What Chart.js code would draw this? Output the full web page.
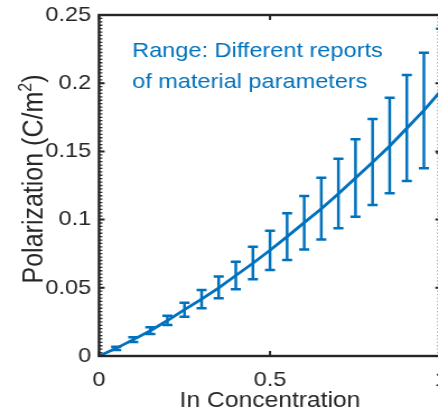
<!DOCTYPE html>
<html>
<head>
<meta charset="utf-8">
<script src="https://cdn.jsdelivr.net/npm/chart.js@4"></script>
<style>
  html, body { margin: 0; padding: 0; overflow: hidden; background: #fff; }
  /* the reference picture is a bit stretched sideways, so stretch the whole canvas too */
  #wrap { width: 420px; height: 414px; transform: scaleX(1.12); transform-origin: 0 0; }
</style>
</head>
<body>
<div id="wrap"><canvas id="myChart" width="420" height="414"></canvas></div>
<script>
const BLUE = "#0072BD"
const AXIS = "#262626"

// concentration values for the curve
const xValues = [0, 0.05, 0.1, 0.15, 0.2, 0.25, 0.3, 0.35, 0.4, 0.45, 0.5,
                 0.55, 0.6, 0.65, 0.7, 0.75, 0.8, 0.85, 0.9, 0.95, 1.0]
// polarization along the curve (C/m^2)
const polarization = [0, 0.0056, 0.012, 0.0185, 0.026, 0.034, 0.0417, 0.050, 0.059, 0.068, 0.0775,
                      0.0875, 0.0978, 0.108, 0.119, 0.1305, 0.142, 0.154, 0.167, 0.180, 0.1945]

// error bar range (different reports of material parameters)
const barX = [0.05, 0.1, 0.15, 0.2, 0.25, 0.3, 0.35, 0.4, 0.45, 0.5,
              0.55, 0.6, 0.65, 0.7, 0.75, 0.8, 0.85, 0.9, 0.95, 1.0]
const barLow = [0.0044, 0.0103, 0.0161, 0.0227, 0.0288, 0.035, 0.0423, 0.0489, 0.0562, 0.063,
                0.0704, 0.078, 0.0855, 0.0936, 0.1021, 0.1107, 0.1193, 0.1283, 0.1376, 0.149]
const barHigh = [0.0068, 0.0137, 0.021, 0.0296, 0.0391, 0.0484, 0.0582, 0.0691, 0.0801, 0.0919,
                 0.1046, 0.1173, 0.1307, 0.1447, 0.1589, 0.1738, 0.1894, 0.206, 0.2224, 0.24]

const xTicks = [0, 0.5, 1]
const yTicks = [0, 0.05, 0.1, 0.15, 0.2, 0.25]
const annotation = ["Range: Different reports", "of material parameters"]

// curve points
let curve = []
for (let i = 0; i < xValues.length; i++) {
  curve.push({x: xValues[i], y: polarization[i]})
}

// each bar is low point, high point, then a gap so the line breaks
let bars = []
for (let i = 0; i < barX.length; i++) {
  bars.push({x: barX[i], y: barLow[i]})
  bars.push({x: barX[i], y: barHigh[i]})
  bars.push({x: barX[i], y: null})
}

// matlab style box with inward ticks, y label and the blue note
const matlabAxes = {
  id: "matlabAxes",
  afterDatasetsDraw(chart) {
    const ctx = chart.ctx
    const area = chart.chartArea
    const xs = chart.scales.x
    const ys = chart.scales.y
    ctx.save()
    ctx.strokeStyle = AXIS
    ctx.lineWidth = 1.3
    ctx.beginPath()
    // minor ticks on y, every 0.0025
    for (let k = 0; k <= 100; k++) {
      let py = ys.getPixelForValue(k * 0.0025)
      ctx.moveTo(area.left, py); ctx.lineTo(area.left + 3, py)
      ctx.moveTo(area.right, py); ctx.lineTo(area.right - 3, py)
    }
    ctx.stroke()
    ctx.lineWidth = 2
    ctx.beginPath()
    yTicks.forEach(v => {
      let py = ys.getPixelForValue(v)
      ctx.moveTo(area.left, py); ctx.lineTo(area.left + 5, py)
      ctx.moveTo(area.right, py); ctx.lineTo(area.right - 5, py)
    })
    xTicks.forEach(v => {
      let px = xs.getPixelForValue(v)
      ctx.moveTo(px, area.bottom); ctx.lineTo(px, area.bottom - 5)
      ctx.moveTo(px, area.top); ctx.lineTo(px, area.top + 5)
    })
    ctx.stroke()
    ctx.lineWidth = 2.4
    ctx.strokeRect(area.left, area.top, area.right - area.left, area.bottom - area.top)

    // note text
    ctx.fillStyle = BLUE
    ctx.font = "21px 'Liberation Sans', Arial, sans-serif"
    ctx.textBaseline = "alphabetic"
    ctx.textAlign = "left"
    ctx.fillText(annotation[0], 118, 57)
    ctx.fillText(annotation[1], 118, 88)

    // y axis title with a real superscript
    const main = "Polarization (C/m"
    ctx.fillStyle = AXIS
    ctx.translate(37.5, 179)
    ctx.rotate(-Math.PI / 2)
    ctx.font = "25px 'Liberation Sans', Arial, sans-serif"
    let w1 = ctx.measureText(main).width
    let w3 = ctx.measureText(")").width
    ctx.font = "16px 'Liberation Sans', Arial, sans-serif"
    let w2 = ctx.measureText("2").width
    let start = -(w1 + w2 + w3) / 2
    ctx.font = "25px 'Liberation Sans', Arial, sans-serif"
    ctx.fillText(main, start, 0)
    ctx.fillText(")", start + w1 + w2, 0)
    ctx.font = "16px 'Liberation Sans', Arial, sans-serif"
    ctx.fillText("2", start + w1, -10)
    ctx.restore()
  }
}

const chart = new Chart(document.getElementById("myChart"), {
  type: "line",
  data: {
    datasets: [
      {
        data: bars,
        borderColor: BLUE,
        borderWidth: 2.5,
        spanGaps: false,
        pointStyle: "line",
        pointRadius: 4.5,
        pointBorderWidth: 2.5,
        pointBorderColor: BLUE,
        pointHoverRadius: 4.5
      },
      {
        data: curve,
        borderColor: BLUE,
        borderWidth: 2.8,
        pointRadius: 0,
        tension: 0
      }
    ]
  },
  options: {
    responsive: false,
    animation: false,
    events: [],
    layout: {padding: {top: 15, right: 26.25, left: 0, bottom: 0}},
    plugins: {legend: {display: false}, tooltip: {enabled: false}},
    scales: {
      x: {
        type: "linear",
        min: 0,
        max: 1,
        afterBuildTicks: s => { s.ticks = xTicks.map(v => ({value: v})) },
        // fixed height, and no extra room for the end labels
        afterFit: s => { s.height = 58; s.paddingLeft = 0; s.paddingRight = 0 },
        grid: {display: false, drawTicks: false},
        border: {display: false},
        ticks: {color: AXIS, padding: 12, maxRotation: 0, callback: v => String(v),
                font: {family: "'Liberation Sans', Arial", size: 21}},
        title: {display: true, text: "In Concentration", color: AXIS, padding: 0,
                font: {family: "'Liberation Sans', Arial", size: 22}}
      },
      y: {
        min: 0,
        max: 0.25,
        afterBuildTicks: s => { s.ticks = yTicks.map(v => ({value: v})) },
        afterFit: s => { s.width = 88.4; s.paddingTop = 0; s.paddingBottom = 0 },
        grid: {display: false, drawTicks: false},
        border: {display: false},
        ticks: {color: AXIS, padding: 7, callback: v => String(v),
                font: {family: "'Liberation Sans', Arial", size: 21}}
      }
    }
  },
  plugins: [matlabAxes]
})
</script>
</body>
</html>
